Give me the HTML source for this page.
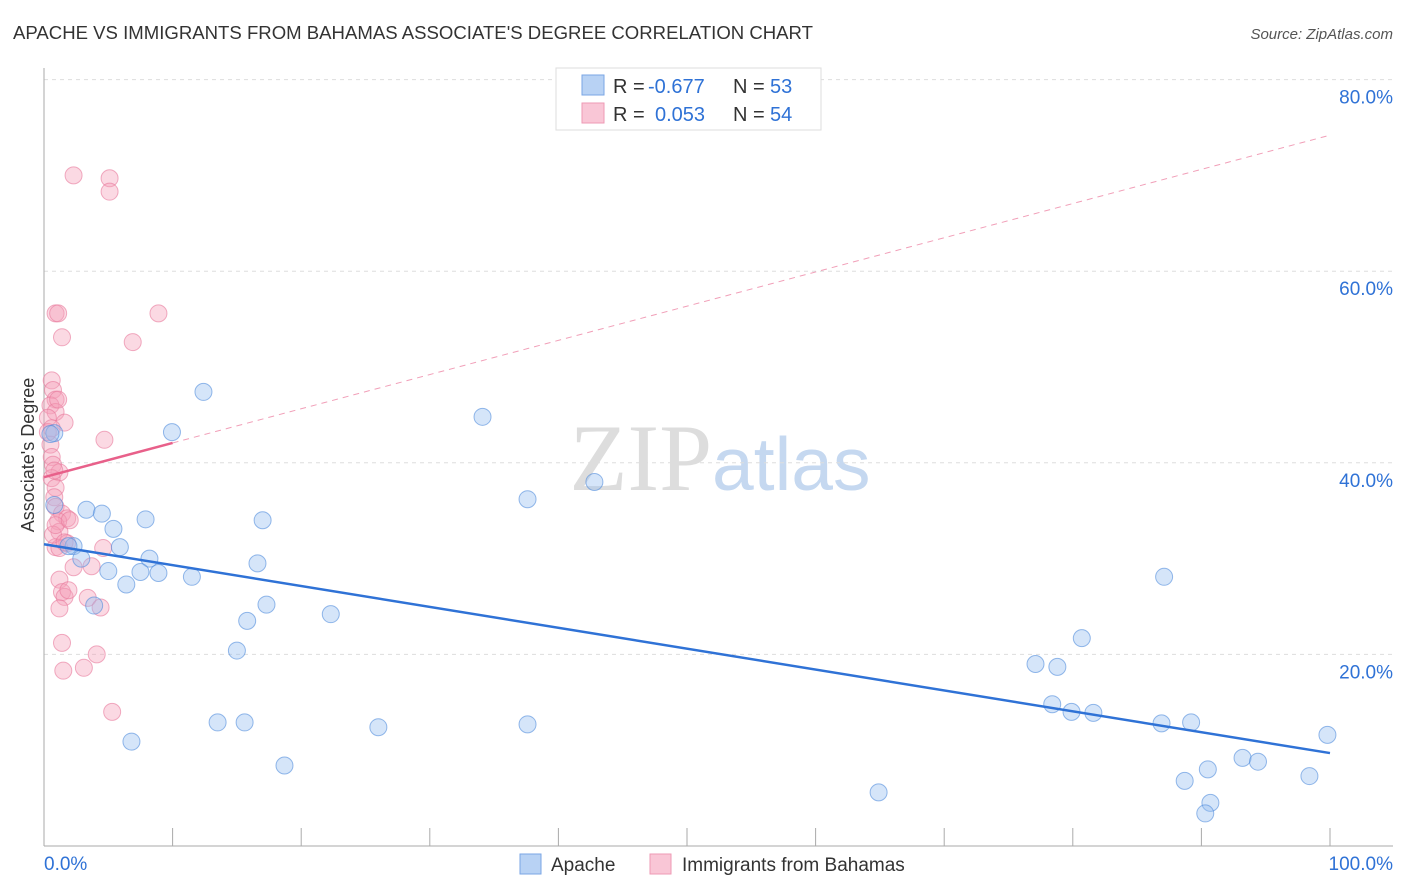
<!DOCTYPE html>
<html><head><meta charset="utf-8"><style>
body{margin:0;background:#fff;font-family:"Liberation Sans",sans-serif;}
</style></head><body>
<svg id="chart" width="1406" height="892" xmlns="http://www.w3.org/2000/svg" style="display:block">
<text x="13" y="39" font-size="18" fill="#333" textLength="800" lengthAdjust="spacingAndGlyphs">APACHE VS IMMIGRANTS FROM BAHAMAS ASSOCIATE'S DEGREE CORRELATION CHART</text>
<text x="1393" y="39" font-size="15" fill="#555" text-anchor="end" font-style="italic">Source: ZipAtlas.com</text>
<text x="720" y="490" font-size="95" text-anchor="middle" fill="#ddd" font-family="Liberation Serif,serif">ZIP<tspan fill="#c5d8f0" font-family="Liberation Sans,sans-serif" font-size="75">atlas</tspan></text>
<g id="grid"></g><g id="axes"></g><g id="pts"></g><g id="trend"></g>
<text transform="translate(34,455) rotate(-90)" font-size="18" fill="#333" text-anchor="middle">Associate's Degree</text>
<g>
<rect x="556" y="68" width="265" height="62" fill="#fff" stroke="#ddd"/>
<rect x="582" y="75" width="22" height="20" fill="#b8d2f4" stroke="#7aa6e4"/>
<rect x="582" y="103" width="22" height="20" fill="#f9c6d6" stroke="#ee9ab4"/>
<text x="613" y="93" font-size="20" fill="#333">R =</text>
<text x="648" y="93" font-size="20" fill="#2f72d6">-0.677</text>
<text x="733" y="93" font-size="20" fill="#333">N =</text>
<text x="770" y="93" font-size="20" fill="#2f72d6">53</text>
<text x="613" y="121" font-size="20" fill="#333">R =</text>
<text x="655" y="121" font-size="20" fill="#2f72d6">0.053</text>
<text x="733" y="121" font-size="20" fill="#333">N =</text>
<text x="770" y="121" font-size="20" fill="#2f72d6">54</text>
</g>
<g>
<rect x="520" y="854" width="21" height="20" fill="#b8d2f4" stroke="#7aa6e4"/>
<text x="551" y="871" font-size="19" fill="#333">Apache</text>
<rect x="650" y="854" width="21" height="20" fill="#f9c6d6" stroke="#ee9ab4"/>
<text x="682" y="871" font-size="19" fill="#333">Immigrants from Bahamas</text>
</g>
</svg>
<script>
const yTicks=[20,40,60,80];
const yTickLabels=["20.0%","40.0%","60.0%","80.0%"];
const xTickLabels=["0.0%","100.0%"];
const apacheX=[9.95,12.4,34.1,37.6,42.8,3.3,4.5,0.8,5.4,7.9,17.0,5.9,2.3,2.9,8.2,5.0,7.5,8.9,11.5,6.4,16.6,3.9,17.3,15.8,22.3,15.0,13.5,15.6,6.8,26.0,37.6,18.7,64.9,87.1,80.7,77.1,78.8,78.4,79.9,81.6,86.9,89.2,99.8,88.7,90.5,93.2,94.4,98.4,90.7,90.3,0.8,1.9,0.5];
const apacheY=[43.2,47.4,44.8,36.2,38.0,35.1,34.7,35.6,33.1,34.1,34.0,31.2,31.3,30.0,30.0,28.7,28.6,28.5,28.1,27.3,29.5,25.1,25.2,23.5,24.2,20.4,12.9,12.9,10.9,12.4,12.7,8.4,5.6,28.1,21.7,19.0,18.7,14.8,14.0,13.9,12.8,12.9,11.6,6.8,8.0,9.2,8.8,7.3,4.5,3.4,43.1,31.3,43.0];
const bahamasX=[2.3,5.1,5.1,0.9,1.1,8.9,1.4,6.9,0.6,0.7,0.9,0.5,0.9,0.3,1.6,0.6,4.7,0.5,0.6,0.7,1.2,0.6,0.9,0.8,0.9,1.4,1.8,1.1,1.2,1.8,0.9,4.6,1.2,2.3,3.7,1.2,1.4,1.6,3.4,4.4,1.2,1.4,4.1,1.5,3.1,5.3,0.8,0.7,1.9,0.3,1.1,0.9,1.6,2.0];
const bahamasY=[70.0,69.7,68.3,55.6,55.6,55.6,53.1,52.6,48.6,47.6,46.6,46.0,45.3,44.7,44.2,43.6,42.4,41.9,40.6,39.8,39.0,38.4,37.4,36.4,35.4,34.7,34.2,33.9,32.8,31.6,31.2,31.1,31.1,29.1,29.2,27.8,26.5,26.0,25.9,24.9,24.8,21.2,20.0,18.3,18.6,14.0,39.2,32.5,26.7,43.2,46.6,33.5,31.7,34.0];
const apacheTrend=[31.5,9.7];
const bahamasTrend=[38.5,74.2];
const NS="http://www.w3.org/2000/svg";
const X=v=>44+v*12.86, Y=v=>846-v*9.58;
function mk(tag,attrs,parent){const e=document.createElementNS(NS,tag);for(const k in attrs)e.setAttribute(k,attrs[k]);document.getElementById(parent).appendChild(e);return e;}
yTicks.forEach((t,i)=>{
 const g=mk('line',{x1:44,x2:1393,y1:Y(t),y2:Y(t),stroke:'#ddd','stroke-dasharray':'4,4'},'grid');
 
 
 const l=mk('text',{x:1393,y:Y(t)+24,'font-size':19,fill:'#2f72d6','text-anchor':'end'},'grid');
 l.textContent=yTickLabels[i];
 
 
});
const ax=mk('line',{x1:44,x2:44,y1:68,y2:846,stroke:'#aaa'},'axes');


const bx=mk('line',{x1:44,x2:1393,y1:846,y2:846,stroke:'#aaa'},'axes');


for(let i=1;i<=10;i++){const t=mk('line',{x1:X(i*10),x2:X(i*10),y1:828,y2:846,stroke:'#aaa'},'axes');
 
 }
[[0,'start',44],[100,'end',1393]].forEach((a,i)=>{const t=mk('text',{x:a[2],y:870,'font-size':19,fill:'#2f72d6','text-anchor':a[1]},'axes');t.textContent=xTickLabels[i];
 
 });
bahamasX.forEach((x,i)=>{const c=mk('circle',{cx:X(x),cy:Y(bahamasY[i]),r:8.5,fill:'rgba(244,160,186,0.4)',stroke:'rgba(232,120,155,0.6)'},'pts');
 
 });
apacheX.forEach((x,i)=>{const c=mk('circle',{cx:X(x),cy:Y(apacheY[i]),r:8.5,fill:'rgba(150,190,240,0.4)',stroke:'rgba(80,140,220,0.6)'},'pts');
 
 });
const bt=t=>bahamasTrend[0]+(bahamasTrend[1]-bahamasTrend[0])*t/100;
const d=mk('line',{x1:X(10),y1:Y(bt(10)),x2:X(100),y2:Y(bt(100)),stroke:'#e8608a','stroke-width':1,'stroke-dasharray':'6,5',opacity:0.6},'trend');


const s=mk('line',{x1:X(0),y1:Y(bt(0)),x2:X(10),y2:Y(bt(10)),stroke:'#e8608a','stroke-width':2.5},'trend');


const a=mk('line',{x1:X(0),y1:Y(apacheTrend[0]),x2:X(100),y2:Y(apacheTrend[1]),stroke:'#2f72d6','stroke-width':2.5},'trend');


</script>
</body></html>
